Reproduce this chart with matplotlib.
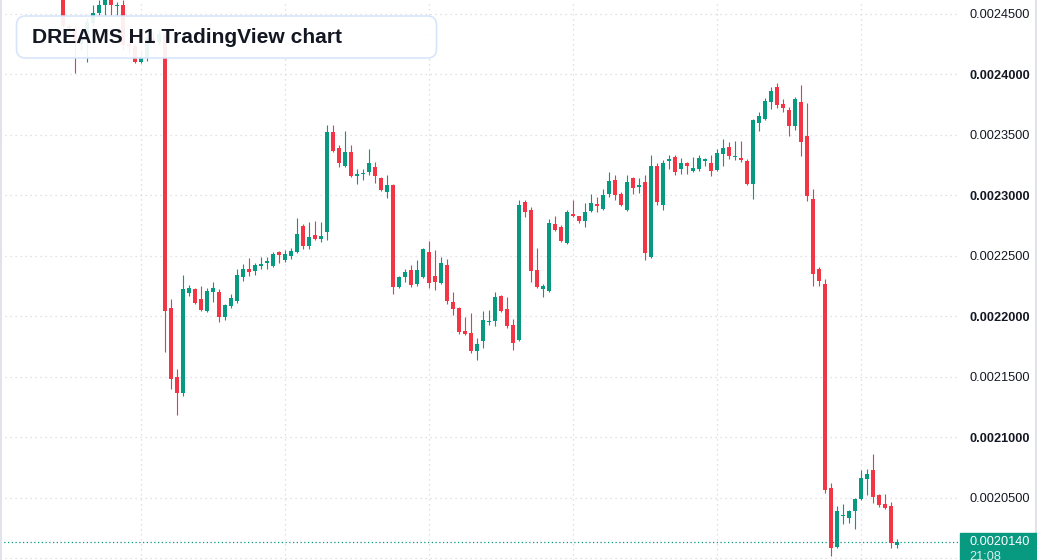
import matplotlib

matplotlib.use("Agg")
import matplotlib.pyplot as plt
import numpy as np
from matplotlib.patches import FancyBboxPatch, Rectangle

# Hourly candles, prices in units of 1e-7
opens = [
    24680, 24401, 24384, 24252, 24285, 24426, 24508, 24574, 24632, 24566,
    24574, 24252, 24236, 24103, 24145, 24302, 24269, 24327, 22070, 21500,
    21367, 22194, 22227, 22144, 22045, 22202, 22202, 21996, 22087, 22128,
    22326, 22393, 22376, 22417, 22442, 22417, 22533, 22467, 22500, 22533,
    22748, 22583, 22674, 22641, 22699, 23526, 23394, 23244, 23361, 23162,
    23179, 23195, 23236, 23146, 23029, 23087, 22244, 22326, 22384, 22269,
    22326, 22533, 22335, 22277, 22426, 22119, 22070, 21880, 21863, 21714,
    21797, 21954, 21963, 22170, 22062, 21929, 21806, 22946, 22880, 22384,
    22227, 22211, 22765, 22740, 22607, 22847, 22831, 22789, 22872, 22930,
    22889, 23013, 23129, 23013, 22880, 23146, 23071, 23112, 22492, 23244,
    22922, 23286, 23319, 23220, 23269, 23203, 23220, 23286, 23269, 23212,
    23344, 23402, 23319, 23311, 23286, 23096, 23600, 23633, 23773, 23897,
    23757, 23707, 23575, 23773, 23492, 22971, 22393, 22269, 20583, 20095,
    20351, 20334, 20392, 20491, 20657, 20731, 20524, 20450, 20433, 20111,
]
highs = [
    24700, 24417, 24401, 24368, 24467, 24574, 24616, 24657, 24649, 24599,
    24616, 24285, 24252, 24202, 24327, 24351, 24368, 24343, 22144, 21566,
    22343, 22261, 22236, 22252, 22236, 22285, 22227, 22103, 22186, 22393,
    22434, 22484, 22442, 22492, 22492, 22533, 22542, 22550, 22566, 22814,
    22765, 22781, 22790, 22781, 23583, 23583, 23418, 23534, 23418, 23220,
    23220, 23386, 23277, 23154, 23170, 23096, 22335, 22393, 22426, 22467,
    22566, 22624, 22550, 22492, 22475, 22202, 22078, 21996, 22029, 21822,
    22045, 22053, 22202, 22175, 22161, 21979, 22963, 22963, 22905, 22566,
    22269, 22806, 22831, 22756, 22880, 22963, 22831, 22938, 23013, 22988,
    23054, 23195, 23170, 23029, 23170, 23154, 23146, 23170, 23336, 23269,
    23294, 23336, 23336, 23311, 23277, 23319, 23336, 23311, 23336, 23386,
    23468, 23443, 23451, 23451, 23302, 23633, 23691, 23806, 23897, 23930,
    23798, 23732, 23815, 23913, 23765, 23054, 22409, 22310, 20624, 20433,
    20450, 20400, 20500, 20731, 20739, 20863, 20533, 20533, 20467, 20161,
]
lows = [
    24384, 24351, 24012, 24202, 24103, 24401, 24492, 24492, 24492, 24492,
    24202, 24178, 24095, 24095, 24112, 24244, 24252, 21706, 21400, 21186,
    21343, 22170, 22103, 22045, 22037, 22119, 21954, 21971, 22070, 22111,
    22293, 22335, 22343, 22393, 22393, 22409, 22442, 22451, 22475, 22525,
    22558, 22558, 22632, 22616, 22632, 23361, 23236, 23236, 23154, 23096,
    23129, 23170, 23104, 23038, 22979, 22186, 22236, 22285, 22244, 22252,
    22318, 22236, 22219, 22269, 22103, 22012, 21855, 21847, 21698, 21640,
    21739, 21929, 21921, 22040, 21905, 21722, 21797, 22822, 22285, 22236,
    22161, 22202, 22707, 22616, 22599, 22822, 22773, 22740, 22864, 22864,
    22880, 22988, 22963, 22913, 22872, 23013, 23021, 22467, 22484, 22922,
    22880, 23220, 23170, 23179, 23179, 23195, 23203, 23244, 23162, 23203,
    23244, 23302, 23294, 23277, 23087, 22971, 23534, 23625, 23716, 23724,
    23691, 23492, 23542, 23327, 22955, 22252, 22252, 20541, 20020, 20086,
    20285, 20293, 20243, 20483, 20524, 20458, 20425, 20409, 20086, 20086,
]
closes = [
    24401, 24384, 24269, 24302, 24434, 24508, 24574, 24632, 24574, 24574,
    24244, 24236, 24103, 24145, 24302, 24269, 24335, 22045, 21483, 21367,
    22227, 22236, 22111, 22053, 22211, 22236, 21996, 22095, 22153, 22343,
    22393, 22368, 22426, 22434, 22459, 22517, 22508, 22517, 22542, 22682,
    22583, 22657, 22641, 22666, 23526, 23369, 23269, 23361, 23162, 23179,
    23187, 23269, 23162, 23046, 23087, 22244, 22326, 22368, 22261, 22384,
    22558, 22277, 22285, 22442, 22128, 22062, 21872, 21855, 21714, 21772,
    21971, 21963, 22161, 22045, 21921, 21780, 22922, 22864, 22376, 22244,
    22252, 22773, 22715, 22624, 22864, 22831, 22789, 22864, 22938, 22913,
    23004, 23121, 23004, 22922, 23112, 23062, 23087, 22525, 23244, 22946,
    23269, 23302, 23195, 23269, 23244, 23228, 23311, 23302, 23203, 23352,
    23394, 23327, 23327, 23294, 23096, 23625, 23658, 23781, 23864, 23749,
    23724, 23575, 23798, 23443, 22996, 22351, 22293, 20566, 20086, 20392,
    20359, 20392, 20491, 20665, 20698, 20508, 20442, 20417, 20128, 20140,
]

price_levels = [0.00200, 0.00205, 0.00210, 0.00215, 0.00220, 0.00225, 0.00230, 0.00235, 0.00240, 0.00245]
day_starts = [13, 37, 61, 85, 109, 133]
last_price = 0.0020140
last_time = "21:08"
title = "DREAMS H1 TradingView chart"

UP = "#089981"
DOWN = "#F23645"
GRID = "#d6d8de"
TEXT = "#131722"
FONT = ["Liberation Sans", "DejaVu Sans"]


# Draw the candles: wicks as vlines, bodies as bars
def draw_candles(ax):
    o = np.array(opens) * 1e-7
    h = np.array(highs) * 1e-7
    l = np.array(lows) * 1e-7
    c = np.array(closes) * 1e-7
    x = np.arange(len(o))
    colors = np.where(c >= o, UP, DOWN)

    ax.vlines(x, l, h, colors=colors, linewidth=0.8, zorder=3)
    body = np.maximum(np.abs(c - o), 9e-7)
    ax.bar(x, body, bottom=np.minimum(o, c), width=0.82, color=colors, linewidth=0, zorder=4)
    return len(o)


# Dotted grid, right price scale, last price marker
def style_axes(fig, ax):
    for level in price_levels:
        ax.axhline(level, color=GRID, linewidth=0.9, linestyle=(0, (1, 3)), zorder=1)
    for d in day_starts:
        ax.axvline(d, color=GRID, linewidth=0.9, linestyle=(0, (1, 3)), zorder=1)

    ax.set_xlim(-10.5, 149.5)
    ax.set_ylim(0.00199876, 0.00246157)
    for s in ax.spines.values():
        s.set_visible(False)
    ax.set_xticks([])

    labeled = price_levels[1:]
    ax.yaxis.tick_right()
    ax.set_yticks(labeled)
    ax.set_yticklabels([f"{v:.7f}" for v in labeled])
    ax.tick_params(axis="y", length=0, pad=6.6, labelsize=9.2, labelcolor=TEXT)
    for lab, v in zip(ax.get_yticklabels(), labeled):
        lab.set_family(FONT)
        if round(v * 1e5) % 10 == 0:
            lab.set_fontweight("bold")

    # last price line and badge
    ax.axhline(last_price, color=UP, linewidth=0.9, linestyle=(0, (1, 2)), zorder=2)
    px = fig.dpi_scale_trans
    fig.patches.append(Rectangle((9.60, 0.0), 0.77, 0.27, transform=px, color=UP, zorder=5))
    fig.text(9.69, 0.184, f"{last_price:.7f}", transform=px, color="white", fontsize=9.2,
             family=FONT, va="center", ha="left", zorder=6)
    # time stamp sits on the bottom edge, partly cut off like the original
    fig.text(9.69, 0.035, last_time, transform=px, color="#d8f0ea", fontsize=9.2,
             family=FONT, va="center", ha="left", zorder=6)

    # frame lines on the left and right edges
    fig.add_artist(plt.Line2D([0.01, 0.01], [0, 5.6], transform=px, color="#e0e3eb", linewidth=1.5))
    fig.add_artist(plt.Line2D([10.355, 10.355], [0, 5.6], transform=px, color="#e0e3eb", linewidth=1.5))


# Title card in the upper left
def draw_title(fig):
    px = fig.dpi_scale_trans
    box = FancyBboxPatch((0.165, 5.02), 4.2, 0.42, boxstyle="round,pad=0,rounding_size=0.09",
                         transform=px, facecolor="white", edgecolor="#d4e3fa", linewidth=1.2,
                         alpha=0.92, zorder=10)
    fig.patches.append(box)
    fig.text(0.32, 5.225, title, transform=px, fontsize=15.1, fontweight="bold", color=TEXT,
             family=FONT, va="center", ha="left", zorder=11)


def main():
    fig = plt.figure(figsize=(10.37, 5.6), dpi=100)
    fig.patch.set_facecolor("white")
    ax = fig.add_axes([0, 0, 960 / 1037, 1])
    draw_candles(ax)
    style_axes(fig, ax)
    draw_title(fig)
    fig.savefig("out.png", dpi=100, facecolor="white")


if __name__ == "__main__":
    main()
